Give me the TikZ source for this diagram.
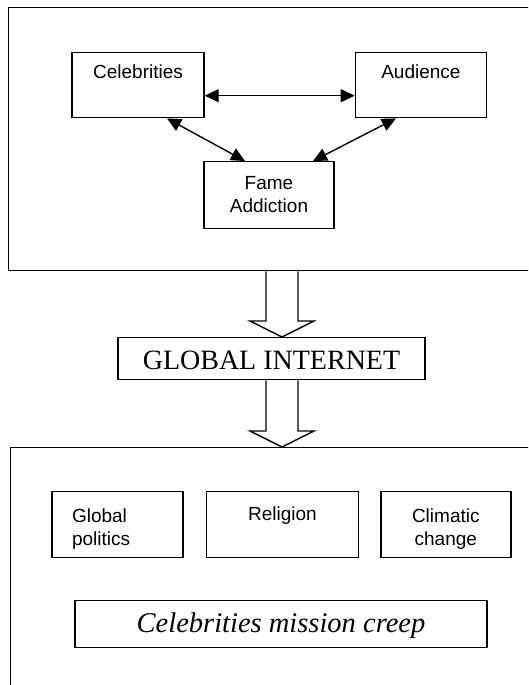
\documentclass[tikz,border=0pt]{standalone}
\usepackage{fontspec}
\setmainfont{Liberation Serif}
\setsansfont{Liberation Sans}
\usetikzlibrary{arrows.meta, positioning, calc}
\tikzset{
  frame/.style={draw, line width=1.4pt, anchor=north west, inner sep=0pt},
  box/.style={draw, line width=1.4pt, inner sep=0pt, anchor=north, align=center, font=\sffamily\fontsize{19}{23}\selectfont},
  banner/.style={draw, line width=1.4pt, inner sep=0pt, anchor=north, font=\rmfamily\fontsize{28}{32}\selectfont},
  hollow/.style={draw, line width=1.4pt, fill=white, line join=miter}
}

\begin{document}
\begin{tikzpicture}[x=1pt, y=-1pt, >={Triangle[length=14pt,width=13pt]}, line width=1.4pt, node distance=22pt]
\clip (0,0) rectangle (528,685);
\node[frame, minimum width=540pt, minimum height=263pt] (upper) at (8,7) {};
\node[box, minimum width=132pt, text height=26pt, text depth=39pt] (celeb) at (138,52) {Celebrities};
\node[box, minimum width=131pt, text height=26pt, text depth=39pt, right=150pt of celeb] (aud) {Audience};
\node[box, minimum width=130pt, text height=51pt, text depth=16pt] (fame) at (269,161) {Fame\\Addiction};
\draw[<->] ([yshift=-10.5pt]celeb.east) -- ([yshift=-10.5pt]aud.west);
\draw[<->] ([xshift=29pt]celeb.south) -- ([xshift=-24pt]fame.north);
\draw[<->] ([xshift=-25pt]aud.south) -- ([xshift=44pt]fame.north);
\node[banner, minimum width=307pt, text height=32pt, text depth=10pt] (gi) at (271.5,337) {GLOBAL INTERNET};
\node[frame, minimum width=540pt, minimum height=260pt] (lower) at (10,447) {};
\node[box, minimum width=131pt, text height=31pt, text depth=35pt, text width=91pt, align=left] (gp) at (117.5,491) {Global\\politics};
\node[box, minimum width=152pt, text height=29pt, text depth=37pt, right=22pt of gp] (rel) {Religion};
\node[box, minimum width=130pt, text height=54pt, text depth=12pt, right=21pt of rel] (clim) {Climatic\\change};
\node[banner, font=\rmfamily\itshape\fontsize{28.5}{32}\selectfont, minimum width=412pt, text height=32pt, text depth=15pt] (creep) at (281,600) {Celebrities mission creep};
\draw[hollow] let \p1=(upper.south), \p2=(gi.north) in (\x2-5.5pt,\y1) -- (\x2-5.5pt,\y2+16pt) -- (\x2-21.5pt,\y2+16pt) -- (\x2+10.5pt,\y2) -- (\x2+42.5pt,\y2+16pt) -- (\x2+26.5pt,\y2+16pt) -- (\x2+26.5pt,\y1);
\draw[hollow] let \p1=(gi.south), \p2=(lower.north) in (\x1-5.5pt,\y1) -- (\x1-5.5pt,\y2+16pt) -- (\x1-21.5pt,\y2+16pt) -- (\x1+10.5pt,\y2) -- (\x1+42.5pt,\y2+16pt) -- (\x1+26.5pt,\y2+16pt) -- (\x1+26.5pt,\y1);
\end{tikzpicture}
\end{document}
